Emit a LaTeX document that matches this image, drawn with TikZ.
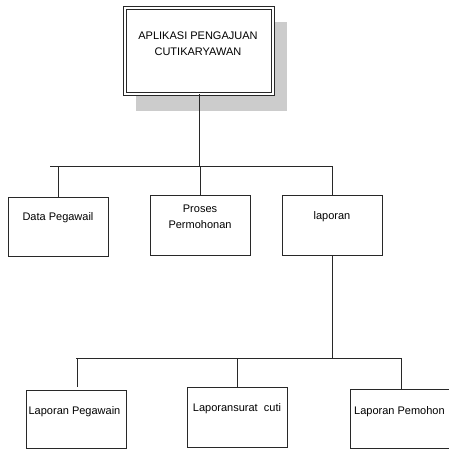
\documentclass[tikz,border=0pt]{standalone}
\usepackage{fontspec}
\setmainfont{Liberation Sans}
\definecolor{shadowgray}{RGB}{204,204,204}
\definecolor{linegray}{RGB}{40,40,40}
\begin{document}
\begin{tikzpicture}[x=1pt,y=-1pt,
  boxnode/.style={draw=linegray,line width=0.8pt,inner sep=0pt,minimum width=100pt},
  lbl/.style={inner sep=0pt,font=\fontsize{11}{16.5}\selectfont,align=center},
  conn/.style={draw=linegray,line width=0.8pt}]
\useasboundingbox (0,0) rectangle (449,449);
% shadow of top box
\fill[shadowgray] (136,22) rectangle (287,111);
% top box (double border)
\node[draw=linegray,line width=0.9pt,double,double distance=2pt,fill=white,inner sep=0pt,
      minimum width=148pt,minimum height=86pt] (top) at (199,51) {};
\node[lbl] (toptxt) at (198,43.5) {APLIKASI PENGAJUAN\\CUTIKARYAWAN};
% level 2 boxes
\node[boxnode,minimum height=59pt] (dp) at (58,226.5) {};
\node[lbl] (dptxt) at (58,218) {Data Pegawail};
\node[boxnode,minimum height=60pt] (pp) at (200,225) {};
\node[lbl] (pptxt) at (200,217) {Proses\\Permohonan};
\node[boxnode,minimum height=60pt] (lap) at (332,225) {};
\node[lbl] (laptxt) at (332,217) {laporan};
% level 3 boxes
\node[boxnode,minimum height=58pt] (lpg) at (76,419) {};
\node[lbl] (lpgtxt) at (74.5,412) {Laporan Pegawain};
\node[boxnode,minimum width=100.5pt,minimum height=60pt] (lsc) at (237.5,417) {};
\node[lbl] (lsctxt) at (237,409) {Laporansurat\ \ cuti};
\node[boxnode,minimum width=120pt,minimum height=59pt] (lpm) at (410,418.5) {};
\node[lbl,anchor=west] (lpmtxt) at (354,412) {Laporan Pemohon};
% connectors level 2
\coordinate (h2l) at (50,166);
\coordinate (h2r) at (332,166);
\draw[conn] (h2l) -- (h2r);
\draw[conn] (top.south) -- (top.south |- h2l);
\draw[conn] (dp.north |- h2l) -- (dp.north);
\draw[conn] (pp.north |- h2l) -- (pp.north);
\draw[conn] (lap.north |- h2l) -- (lap.north);
% connectors level 3
\coordinate (h3l) at (76,358);
\coordinate (h3r) at (401,358);
\coordinate (d3a) at (77,387);
\draw[conn] (h3l) -- (h3r);
\draw[conn] (lap.south) -- (lap.south |- h3l);
\draw[conn] (d3a |- h3l) -- (d3a);
\draw[conn] (lsc.north |- h3l) -- (lsc.north);
\draw[conn] (h3r) -- (h3r |- lpm.north);
\end{tikzpicture}
\end{document}
